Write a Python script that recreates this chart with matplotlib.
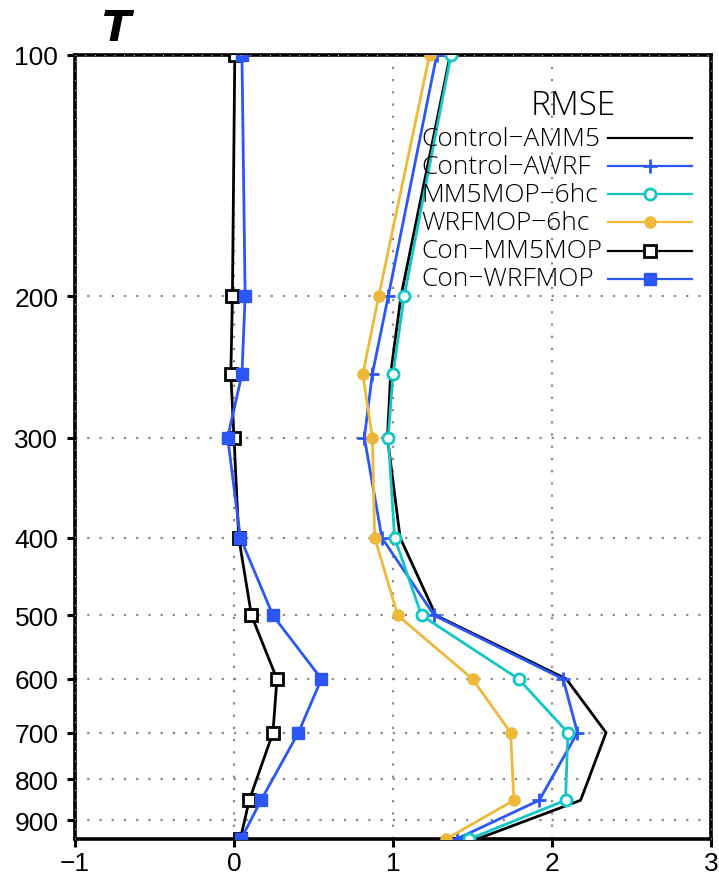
import matplotlib
matplotlib.use("Agg")
import matplotlib.pyplot as plt
from matplotlib.lines import Line2D
from matplotlib.ticker import NullLocator, FixedLocator

# Pressure levels (hPa) and RMSE / difference profiles of temperature
levels = [100, 200, 250, 300, 400, 500, 600, 700, 850, 950]

control_amm5 = [1.36, 1.05, 0.985, 0.965, 1.045, 1.27, 2.09, 2.34, 2.18, 1.53]
control_awrf = [1.275, 0.97, 0.87, 0.82, 0.93, 1.26, 2.07, 2.16, 1.92, 1.40]
mm5mop_6hc = [1.365, 1.07, 1.00, 0.97, 1.01, 1.18, 1.79, 2.10, 2.085, 1.48]
wrfmop_6hc = [1.23, 0.91, 0.81, 0.87, 0.885, 1.03, 1.50, 1.74, 1.76, 1.335]
con_mm5mop = [0.005, -0.01, -0.02, 0.0, 0.03, 0.11, 0.27, 0.245, 0.096, 0.04]
con_wrfmop = [0.05, 0.07, 0.05, -0.04, 0.04, 0.245, 0.55, 0.405, 0.17, 0.045]

series_names = ["Control\u2212AMM5", "Control\u2212AWRF", "MM5MOP\u22126hc",
                "WRFMOP\u22126hc", "Con\u2212MM5MOP", "Con\u2212WRFMOP"]

x_ticks = [-1, 0, 1, 2, 3]
y_ticks = [100, 200, 300, 400, 500, 600, 700, 800, 900]

BLUE = "#2b57f7"
CYAN = "#12c6c6"
GOLD = "#eeb93b"

styles = [
    dict(color="black", marker=None),
    dict(color=BLUE, marker="+", ms=10, mew=2.0),
    dict(color=CYAN, marker="o", ms=8, mfc="white", mec=CYAN, mew=2.0),
    dict(color=GOLD, marker="o", ms=8, mfc=GOLD, mec=GOLD),
    dict(color="black", marker="s", ms=8.5, mfc="white", mec="black", mew=2.0),
    dict(color=BLUE, marker="s", ms=8.5, mfc=BLUE, mec=BLUE),
]
data = [control_amm5, control_awrf, mm5mop_6hc, wrfmop_6hc, con_mm5mop, con_wrfmop]

fig = plt.figure(figsize=(7.19, 8.79), dpi=100)
ax = fig.add_axes([75 / 719, 39 / 879, 636 / 719, 784 / 879])

for vals, st in zip(data, styles):
    ax.plot(vals, levels, lw=2.0, zorder=3, **st)

ax.set_yscale("log")
ax.set_ylim(950, 100)
ax.set_xlim(-1, 3)
ax.yaxis.set_major_locator(FixedLocator(y_ticks))
ax.yaxis.set_minor_locator(NullLocator())
ax.set_yticklabels([str(v) for v in y_ticks])
ax.set_xticks(x_ticks)
ax.set_xticklabels(["\u22121", "0", "1", "2", "3"])

for lab in ax.get_xticklabels() + ax.get_yticklabels():
    lab.set_fontfamily("Liberation Sans")
    lab.set_fontsize(19)

ax.tick_params(axis="both", direction="out", length=6, width=2.2)
ax.tick_params(axis="y", pad=6)
ax.tick_params(axis="x", pad=3)

# dotted reference grid
grid_kw = dict(color="#8a8a8a", lw=1.6, ls=(0, (1, 4.5)), zorder=1)
for xv in [0, 1, 2]:
    ax.axvline(xv, **grid_kw)
for yv in y_ticks[1:]:
    ax.axhline(yv, **grid_kw)

for sp in ax.spines.values():
    sp.set_linewidth(2.6)

# faint dotted pattern running along the frame edges
edge_kw = dict(color="#d8d8d8", lw=0.7, ls=(0, (1, 9)), zorder=4, clip_on=False)
ax.axvline(-1, **edge_kw)
ax.axvline(3, **edge_kw)
ax.axhline(100, **edge_kw)

# legend block
leg_font = dict(family="Open Sans", weight="light", size=19)
ax.text(0.783, 0.936, "RMSE", transform=ax.transAxes, ha="center", va="center",
        family="Open Sans", weight="light", fontsize=24)
row_y = [0.8937, 0.8580, 0.8223, 0.7866, 0.7504, 0.7143]
for name, st, yy in zip(series_names, styles, row_y):
    ax.text(0.545, yy, name, transform=ax.transAxes, ha="left", va="center",
            **leg_font)
    ax.add_line(Line2D([0.838, 0.970], [yy, yy], transform=ax.transAxes,
                       color=st["color"], lw=1.6, zorder=5, clip_on=False))
    if st.get("marker"):
        mk = {k: v for k, v in st.items() if k != "color"}
        ax.add_line(Line2D([0.904], [yy], transform=ax.transAxes,
                           color=st["color"], ls="none", zorder=6,
                           clip_on=False, **mk))

fig.text(117 / 719, 1 - 29 / 879, "T", ha="center", va="center",
         family="DejaVu Sans", weight="bold", style="italic", fontsize=31)

fig.savefig("out.png", dpi=100)
